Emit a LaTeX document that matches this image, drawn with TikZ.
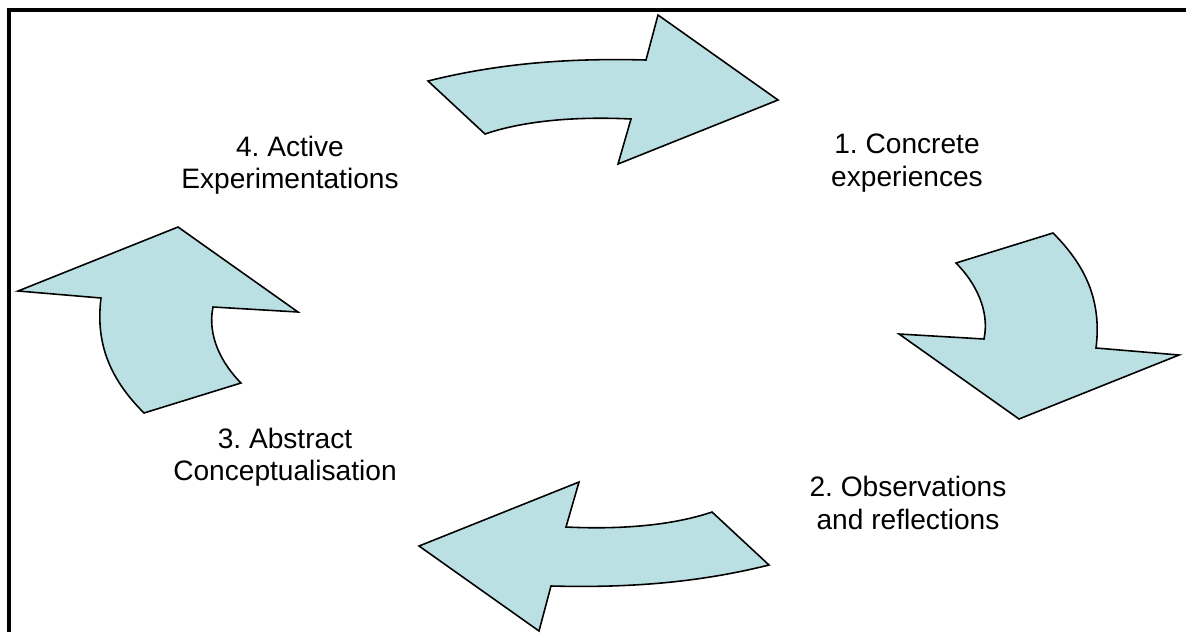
\documentclass[tikz,border=0pt]{standalone}
\usepackage{fontspec}
\setmainfont{Liberation Sans}
\frenchspacing
\definecolor{cycleblue}{RGB}{187,224,227}

\begin{document}
\begin{tikzpicture}[x=0.02cm,y=-0.02cm,
  bentarrow/.style={fill=cycleblue,draw=black,line width=0.9pt},
  stage/.style={align=center,font=\fontsize{16}{18.5}\selectfont}]
\useasboundingbox (0,0) rectangle (1186,632);
\draw[line width=1.9pt](9,632)|-(1186,10);
% curved arrows, the lower two are the upper two turned half round
\foreach \r in {0,180}{
\begin{scope}[rotate around={\r:(598.5,323)}]
\draw[bentarrow](428,81)..controls(500,63)and(570,58)..(646,60)--(658,15)--(778,100)
  --(618,164)--(631,119)..controls(570,116)and(520,122)..(485,134)--cycle;
\draw[bentarrow](1053,233)--(956,263)..controls(975,282)and(990,310)..(984,339)
  --(899,334)--(1019,419)--(1179,355)--(1096,348)
  ..controls(1102,300)and(1085,265)..cycle;
\end{scope}}
\node[stage](concrete)at(907,163){1. Concrete\\experiences};
\node[stage](observe)at(908,503){2. Observations\\and reflections};
\node[stage](abstract)at(285,457){3. Abstract\\Conceptualisation};
\node[stage](active)at(290,165){4. Active\\Experimentations};
\end{tikzpicture}
\end{document}
